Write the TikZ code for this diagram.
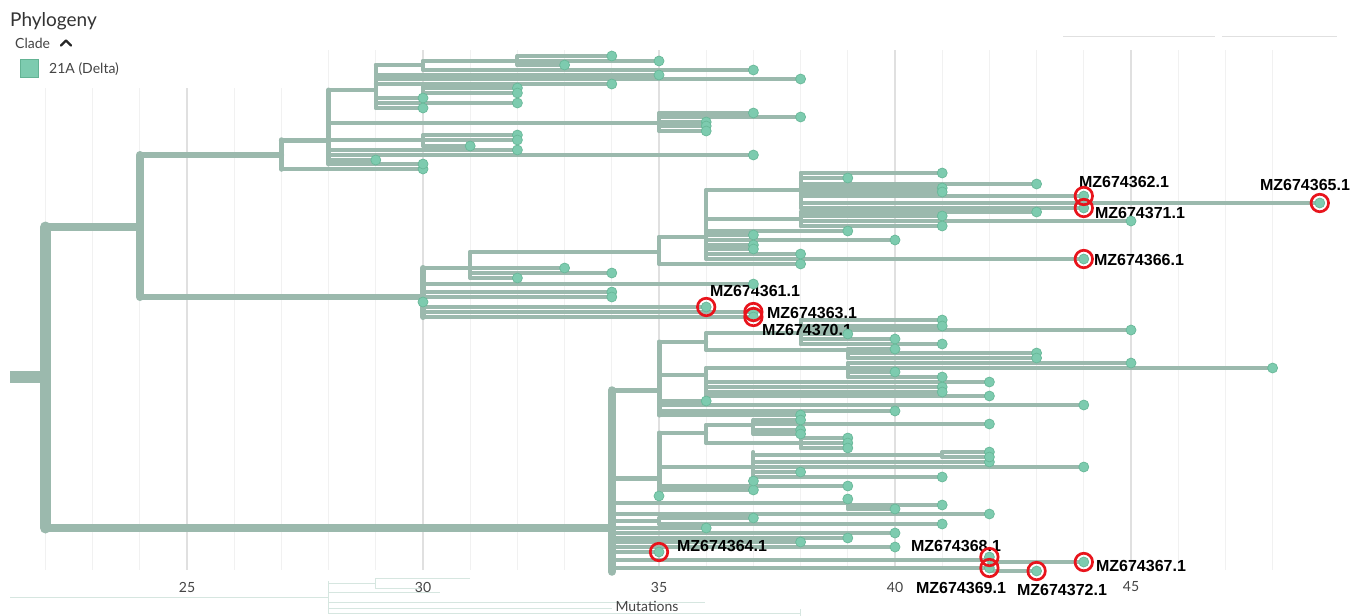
\documentclass[tikz,border=0pt]{standalone}
\usepackage{fontspec}
\setmainfont{Lato}
\newfontfamily\labfont{Liberation Sans}
\definecolor{brc}{HTML}{9BB9AD}
\definecolor{dotc}{HTML}{7DCBAF}
\definecolor{dotd}{HTML}{68B898}
\definecolor{swd}{HTML}{63B394}
\definecolor{gridc}{HTML}{F1F1F1}
\definecolor{gridm}{HTML}{E0E0E0}
\definecolor{faintc}{HTML}{D6E6E0}
\definecolor{hlred}{HTML}{E8141C}
\definecolor{txtc}{HTML}{444444}
\pgfdeclarelayer{dots}
\pgfdeclarelayer{hl}
\pgfsetlayers{main,dots,hl}
\tikzset{
  br/.style={draw=brc, line width=4pt, line cap=round},
  lf/.style={draw=brc, line width=3.3pt, line cap=round},
  tipdot/.style={circle, inner sep=0pt, minimum size=10pt, fill=dotc, draw=dotd, line width=0.7pt},
  hlring/.style={circle, inner sep=0pt, minimum size=17.5pt, draw=hlred, line width=2.7pt},
  lab/.style={font=\labfont\bfseries\fontsize{16}{18}\selectfont, text=black, inner sep=0pt},
  ui/.style={font=\fontsize{14}{16}\selectfont, text=txtc, inner sep=0pt},
  faint/.style={draw=faintc, line width=1pt},
}
\newcommand{\ind}[7][]{%
  \coordinate (#2) at (#4,#5);
  \draw[br,#1] (#3 |- #2) -- (#2);
  \draw[br,#1] (#4,#6) -- (#4,#7);
}
\newcommand{\tp}[3]{%
  \draw[lf] (#1 |- #3,#2) -- (#3,#2);
  \begin{pgfonlayer}{dots}\node[tipdot] at (#3,#2) {};\end{pgfonlayer}
}
\newcommand{\tps}[2]{\foreach \yy/\mm in {#2}{\tp{#1}{\yy}{\mm}}}
\begin{document}
\begin{tikzpicture}[x=1pt,y=-1pt]
\useasboundingbox[fill=white] (0,0) rectangle (1350,616);
% faint UI boxes
\draw[faint,draw=gridm] (1063,36) -- (1215,36);
\draw[faint,draw=gridm] (1222,36) -- (1337,36);
\begin{scope}[x=47.2pt,y=-1pt,xshift=-993pt]
  % grid
  \foreach \m in {22,23,24,26,27} \draw[gridc,line width=1pt] (\m,88) -- (\m,570);
  \foreach \m in {28,29,31,32,33,34,36,37,38,39,41,42,43,44,46,47,48} \draw[gridc,line width=1pt] (\m,50) -- (\m,570);
  \draw[gridm,line width=1.5pt] (25,88) -- (25,570);
  \foreach \m in {30,35,40,45} \draw[gridm,line width=1.5pt] (\m,50) -- (\m,570);
  % root
  \coordinate (R0) at (21.25,377);
  \coordinate (R) at (22,377);
  \draw[br,line width=12pt,line cap=butt] (R0) -- (R);
  \draw[br,line width=11pt] (22,227) -- (22,528);
  \ind[line width=8pt]{A0}{R}{24}{227}{155}{297}
  \ind[line width=7.5pt]{B}{R}{34}{528}{390}{572}
  % top clade
  \ind[line width=5.5pt]{T}{A0}{27}{155}{140}{169}
  \ind[line width=6pt]{M}{A0}{30}{297}{268}{317}
  \ind[line width=5pt]{U}{T}{28}{140}{90}{164}
  \tp{T}{169}{30}
  \ind{V}{U}{29}{90}{65}{108}
  \ind{X1}{U}{35}{123}{113}{131}
  \ind{Y1}{U}{30}{140}{135}{146}
  \tps{U}{150/32,155/37,160/29,164/30}
  \ind{W}{V}{30}{65}{61}{70}
  \ind{V2}{V}{30}{84}{84}{93}
  \tps{V}{75/35,79/38,98/30,103/32,108/30}
  \ind{W1}{W}{32}{61}{56}{65}
  \tp{W}{70}{37}
  \tps{W1}{56/34,61/35,65/33}
  \tps{V2}{84/34,88/32,93/32}
  \tps{X1}{113/37,117/38,122/36,126/36,131/36}
  \tps{Y1}{135/32,140/32,146/31}
  % middle clade
  \ind{M1}{M}{31}{268}{252}{278}
  \tps{M}{284/37,292/34,297/34,302/30,307/36,312/37,317/37}
  \ind{M2}{M1}{35}{252}{237}{264}
  \tps{M1}{268/33,273/34,278/32}
  \ind{M3}{M2}{36}{237}{190}{259}
  \tp{M2}{264}{38}
  \ind{M4}{M3}{38}{190}{173}{208}
  \ind{M5}{M3}{38}{219}{212}{226}
  \tps{M3}{231/39,235/37,240/40,245/37,249/37,254/38,259/44}
  \tps{M4}{173/41,178/39,184/43,188/41,192/41,196/44,203/49,208/44}
  \tps{M5}{212/43,216/41,221/45,226/41}
  % bottom clade
  \ind[line width=5pt]{B1}{B}{35}{390}{342}{415}
  \ind[line width=5pt]{B8}{B}{35}{478}{433}{496}
  \ind{B15}{B}{39}{503}{499}{509}
  \ind{B16}{B}{35}{521}{518}{524}
  \ind{B17}{B}{42}{560}{557}{562}
  \ind{B18}{B}{42}{568}{568}{571}
  \tps{B}{514/42,528/36,533/40,538/39,542/38,547/40,552/35}
  \ind{B2}{B1}{36}{342}{333}{350}
  \ind{B7}{B1}{36}{375}{368}{396}
  \tps{B1}{401/36,405/44,411/40,415/38}
  \ind{B3}{B2}{38}{333}{320}{344}
  \ind{B4}{B2}{39}{350}{349}{358}
  \tps{B3}{320/41,326/41,330/45,334/39,339/40,344/41}
  \tps{B4}{349/40,353/43,358/43}
  \ind{B14}{B7}{39}{368}{363}{377}
  \tps{B7}{382/42,387/41,392/41,396/42}
  \tps{B14}{363/45,368/48,372/40,377/41}
  \ind{B10}{B8}{36}{433}{425}{443}
  \ind{B13}{B8}{37}{467}{452}{481}
  \tps{B8}{486/39,490/37,496/35}
  \ind{B11}{B10}{37}{425}{420}{434}
  \ind{B12}{B10}{38}{443}{438}{448}
  \tps{B11}{420/38,424/42,430/38,434/38}
  \tps{B12}{438/39,443/39,448/39}
  \ind{B19}{B13}{41}{455}{452}{457}
  \tps{B13}{462/42,467/44,472/38,477/41,481/37}
  \tps{B19}{452/42,457/42}
  \tps{B15}{499/39,505/41,509/40}
  \tps{B16}{518/37,524/41}
  \tps{B17}{557/42,562/44}
  \tps{B18}{568/42,571/43}
  % highlighted tips
  \begin{pgfonlayer}{hl}
    \foreach \nm/\mm/\yy in {h62/44/196,h65/49/203,h71/44/208,h66/44/259,h61/36/307,h63/37/312,h70/37/317,h64/35/552,h68/42/557,h67/44/562,h69/42/568,h72/43/571}
      \node[hlring] (\nm) at (\mm,\yy) {};
  \end{pgfonlayer}
\end{scope}
% faint mini tree at bottom
\draw[faint] (10,597) -- (328,597);
\draw[faint] (328,581) -- (328,613);
\draw[faint] (328,583) -- (375,583);
\draw[faint] (375,578) -- (375,588);
\draw[faint] (375,578) -- (470,578);
\draw[faint] (375,588) -- (420,588);
\draw[faint] (328,592) -- (440,592);
\draw[faint] (328,602) -- (705,602);
\draw[faint] (328,608) -- (612,608);
\draw[faint] (328,613) -- (800,613);
\draw[faint] (800,609) -- (800,616);
% labels
\node[lab] (L62) at (1124,182) {MZ674362.1};
\node[lab] (L65) at (1305,185) {MZ674365.1};
\node[lab] (L71) at (1140,213) {MZ674371.1};
\node[lab] (L66) at (1139,260) {MZ674366.1};
\node[lab] (L61) at (755,291) {MZ674361.1};
\node[lab] (L63) at (812,313) {MZ674363.1};
\node[lab] (L70) at (807,330) {MZ674370.1};
\node[lab] (L64) at (722,546) {MZ674364.1};
\node[lab] (L68) at (956,546) {MZ674368.1};
\node[lab] (L67) at (1141,566) {MZ674367.1};
\node[lab] (L69) at (961,588) {MZ674369.1};
\node[lab] (L72) at (1062,590) {MZ674372.1};
% header / legend
\node[ui,anchor=west,font=\fontsize{19}{21}\selectfont,text=black!80] (title) at (10,21) {Phylogeny};
\node[ui,anchor=west] (clade) at (15,43) {Clade};
\draw[line width=2.3pt,black!85,line cap=round,line join=round] (61,45.5) -- (66,40.5) -- (71,45.5);
\node[draw=swd, fill=dotc, line width=1pt, minimum size=18pt, inner sep=0pt] (sw) at (29.5,68.5) {};
\node[ui,anchor=west] (leg) at (49,69) {21A (Delta)};
% axis
\foreach \v/\xx in {25/187,30/423,35/659,40/895,45/1131}
  \node[ui] (ax\v) at (\xx,587) {\v};
\node[ui] (mut) at (647,606) {Mutations};
\end{tikzpicture}
\end{document}
